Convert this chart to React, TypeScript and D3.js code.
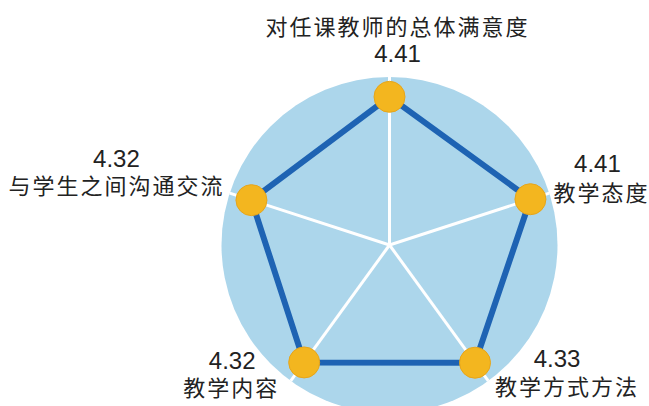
import React from "react";
import * as d3 from "d3";

const categories = ["对任课教师的总体满意度", "教学态度", "教学方式方法", "教学内容", "与学生之间沟通交流"];
const values = [4.41, 4.41, 4.33, 4.32, 4.32];
const valueLabels = ["4.41", "4.41", "4.33", "4.32", "4.32"];
const domainMax = 5;

// label layout offsets relative to each marker: [valueDx, valueDy, titleDx, titleDy]
const labelOffsets = [
  [8, -35, 8, -62],
  [67, -27, 71, 2],
  [82, 4, 92, 32],
  [-72, 7, -73, 34],
  [-135, -33, -135, -6],
];

const W = 649;
const H = 406;

export default function App() {
  const cx = 389.5;
  const cy = 245;
  const R = 168;
  const r = d3.scaleLinear().domain([0, domainMax]).range([0, R]);
  const angle = d3
    .scalePoint<number>()
    .domain(d3.range(categories.length))
    .range([0, (2 * Math.PI * (categories.length - 1)) / categories.length]);

  const pt = (i: number, v: number): [number, number] => {
    const a = angle(i)!;
    return [cx + r(v) * Math.sin(a), cy - r(v) * Math.cos(a)];
  };
  const pts = values.map((v, i) => pt(i, v));
  const line = d3.line().curve(d3.curveLinearClosed);

  const cjk = "'Noto Sans CJK SC', sans-serif";
  const num = "'Liberation Sans', Arial, sans-serif";

  return (
    <svg
      width={W}
      height={H}
      style={{ position: "absolute", left: 0, top: 0, background: "#fff" }}
    >
      <circle cx={cx} cy={cy} r={r(domainMax)} fill="#acd6eb" />
      {categories.map((_, i) => {
        const [x, y] = pt(i, domainMax);
        return <line key={i} x1={cx} y1={cy} x2={x} y2={y} stroke="#fff" strokeWidth={3} />;
      })}
      <path d={line(pts) || ""} fill="none" stroke="#1e63b3" strokeWidth={6} strokeLinejoin="round" />
      {pts.map(([x, y], i) => (
        <circle key={i} cx={x} cy={y} r={15.5} fill="#f3b61f" stroke="#e6a51c" strokeWidth={1} />
      ))}
      {pts.map(([x, y], i) => {
        const [vdx, vdy, tdx, tdy] = labelOffsets[i];
        return (
          <g key={i} fill="#222">
            <text x={x + vdx} y={y + vdy} textAnchor="middle" fontFamily={num} fontSize={24}>
              {valueLabels[i]}
            </text>
            <text
              x={x + tdx}
              y={y + tdy}
              textAnchor="middle"
              fontFamily={cjk}
              fontSize={22}
              letterSpacing={2}
            >
              {categories[i]}
            </text>
          </g>
        );
      })}
    </svg>
  );
}
